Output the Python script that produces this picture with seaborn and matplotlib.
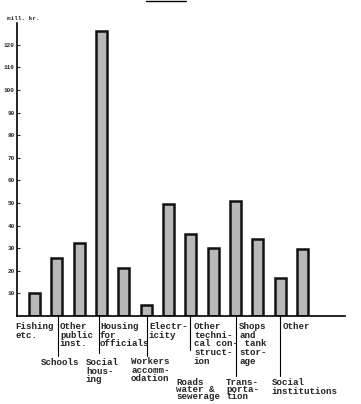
import matplotlib
matplotlib.use("Agg")
import matplotlib.pyplot as plt
import seaborn as sns
import pandas as pd
from matplotlib.lines import Line2D

categories = ["Fishing etc.", "Schools", "Other public inst.", "Housing for officials",
              "Social housing", "Workers accommodation", "Electricity",
              "Roads water & sewerage", "Other technical construction", "Transportation",
              "Shops and tank storage", "Social institutions", "Other"]
values = [10, 25.5, 32.3, 126, 21.2, 4.9, 49.6, 36.3, 30, 51, 34, 16.8, 29.6]
yticks = [10, 20, 30, 40, 50, 60, 70, 80, 90, 100, 110, 120]

# label layout: (text, x_px, y_px)
label_texts = [
    ("Fishing\netc.", 15, 322),
    ("Other\npublic\ninst.", 60, 322),
    ("Housing\nfor\nofficials", 100, 322),
    ("Electr-\nicity", 149, 322),
    ("Other\ntechni-\ncal con-\nstruct-\nion", 194, 322),
    ("Shops\nand\n tank\nstor-\nage", 239, 322),
    ("Other", 283, 322),
    ("Schools", 41, 358),
    ("Social\nhous-\ning", 86, 358),
    ("Workers\naccomm-\nodation", 131, 357),
    ("Social\ninstitutions", 272, 378),
]
tight_texts = [
    ("Roads\nwater &\nsewerage", 176, 378),
    ("Trans-\nporta-\ntion", 226, 378),
]
# separator lines: (x_px, y_top_px, y_bottom_px)
sep_lines = [(58, 316, 356), (99, 316, 353), (147, 316, 356), (190, 316, 350),
             (236, 316, 376), (280, 316, 376)]

W, H = 361, 404
df = pd.DataFrame({"cat": categories, "val": values})

sns.set_style("white")
plt.rcParams["font.family"] = ["Liberation Mono", "DejaVu Sans Mono"]
fig = plt.figure(figsize=(W / 100, H / 100), dpi=100)
ax = fig.add_axes([17 / W, 1 - 316 / H, (345 - 17) / W, (316 - 23) / H])

sns.barplot(data=df, x="cat", y="val", order=categories, ax=ax, width=0.49,
            color="#b8b8b8", edgecolor="#111111", linewidth=1.8, saturation=1)

ax.set_xlim(-0.78, 13.9)
ax.set_ylim(0, 129.6)
ax.set_yticks(yticks)
ax.set_yticklabels([str(t) for t in yticks], fontsize=4.3, fontweight="bold")
ax.tick_params(axis="y", direction="in", length=2, width=0.8, pad=1.5, left=True)
ax.tick_params(axis="x", bottom=False, labelbottom=False)
ax.set_xlabel("")
ax.set_ylabel("")
for s in ["top", "right"]:
    ax.spines[s].set_visible(False)
for s in ["left", "bottom"]:
    ax.spines[s].set_color("black")
    ax.spines[s].set_linewidth(1.2)

fig.text(7 / W, 1 - 19 / H, "mill. kr.", fontsize=4.3, fontweight="bold", va="center", ha="left")

for txt, x, y in label_texts:
    fig.text(x / W, 1 - y / H, txt, fontsize=6.6, fontweight="bold", va="top", ha="left",
             linespacing=0.95)
for txt, x, y in tight_texts:
    fig.text(x / W, 1 - y / H, txt, fontsize=6.6, fontweight="bold", va="top", ha="left",
             linespacing=0.72)

for x, y0, y1 in sep_lines:
    fig.add_artist(Line2D([x / W, x / W], [1 - y0 / H, 1 - y1 / H], color="black", lw=0.8))

# cut-off title underline at top
fig.add_artist(Line2D([146 / W, 186 / W], [1 - 0.5 / H, 1 - 0.5 / H], color="black", lw=1.0))

fig.savefig("out.png", dpi=100)
